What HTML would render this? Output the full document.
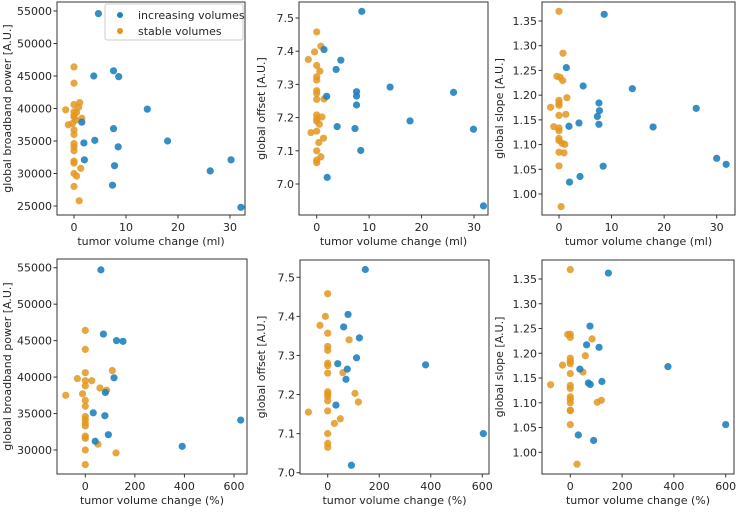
<!DOCTYPE html>
<html><head><meta charset="utf-8"><style>
html,body{margin:0;padding:0;background:#fff}
svg text{font-family:"DejaVu Sans","Liberation Sans",sans-serif;fill:#262626}
</style></head><body>
<svg id="fig" width="736" height="508" viewBox="0 0 736 508" xmlns="http://www.w3.org/2000/svg"></svg>
<script>
// ---- data (per panel) ----
const p1IncX=[4.7,3.8,7.6,8.6,14.1,1.5,7.6,18.0,4.0,1.9,8.5,2.0,7.8,7.4,30.2,26.2,32.1];
const p1IncY=[54600,45000,45800,44900,39900,37900,36900,35000,35100,34700,34100,32100,31200,28200,32100,30400,24800];
const p1StaX=[0,0,0,1.1,-1.6,0,0.5,0,0.9,0,1.5,-1.1,0,0,0,0,0,0,0,1.3,0,0.5,0,1.0,-0.3,0.4];
const p1StaY=[46400,43900,40600,40900,39800,39500,39400,38900,40200,38700,38500,37500,36700,36000,34600,34100,33500,31900,31600,30800,30000,29600,28000,25800,37700,38200];
const p2IncX=[8.6,1.4,4.6,3.7,7.6,7.6,7.6,14.0,26.1,1.9,17.8,3.9,7.3,29.9,8.4,2.0,31.8];
const p2IncY=[7.52,7.405,7.373,7.345,7.278,7.265,7.238,7.292,7.276,7.264,7.19,7.173,7.167,7.165,7.101,7.02,6.934];
const p2StaX=[0,0.8,-0.4,-1.6,0,0.6,0,0,0,0,0,1.4,0,1.0,0,0,0.5,-1.1,0,1.3,0.4,0,0.8,0,0];
const p2StaY=[7.458,7.415,7.398,7.375,7.357,7.34,7.323,7.313,7.281,7.273,7.255,7.256,7.208,7.202,7.197,7.189,7.18,7.155,7.159,7.138,7.125,7.1,7.082,7.072,7.064];
const p3IncX=[8.6,1.4,4.6,13.95,7.6,7.7,7.3,7.6,3.8,1.9,17.9,26.1,30,31.8,8.4,4.0,2.0];
const p3IncY=[1.3635,1.2556,1.2185,1.2131,1.1841,1.1686,1.157,1.141,1.1436,1.137,1.1356,1.1733,1.0722,1.06,1.0563,1.0354,1.024];
const p3StaX=[0,0.76,-0.4,0.2,0.7,0,0,0,1.5,-1.6,1.3,0,-1.0,0,0,0,0,0.6,1.1,0,0.95,0,0.4];
const p3StaY=[1.3696,1.2848,1.2381,1.236,1.2294,1.1895,1.184,1.1794,1.1949,1.1753,1.1612,1.159,1.1362,1.1335,1.128,1.1125,1.108,1.1025,1.1005,1.0845,1.0832,1.0568,0.9745];
const p4IncX=[63,73,126,152,116,81,32,79,93,40,391,627];
const p4IncY=[54700,45900,45000,44900,39900,37900,35100,34700,32100,31200,30500,34100];
const p4StaX=[0,0,0,109,-32,0,26,0,59,86,-11,-79,0,0,0,0,0,0,0,0,51,0,124,0];
const p4StaY=[46400,43800,40600,40900,39800,39500,39500,38800,38500,38200,37700,37500,36800,36000,34600,34200,33700,33300,31900,31600,30800,30000,29600,28000];
const p5IncX=[146,79,62,123,112,39,76,71,380,32,604,92];
const p5IncY=[7.52,7.405,7.373,7.345,7.294,7.279,7.265,7.239,7.276,7.173,7.1,7.019];
const p5StaX=[0,-9,-30,0,0,0,83,0,0,0,59,0,0,0,0,106,119,0,-75,49,26,0,0,0];
const p5StaY=[7.458,7.4,7.377,7.357,7.323,7.313,7.34,7.28,7.274,7.255,7.256,7.207,7.201,7.195,7.184,7.203,7.181,7.158,7.155,7.138,7.126,7.1,7.075,7.065];
const p6IncX=[147,76,63,111,377,37,70,77,122,600,31,90];
const p6IncY=[1.362,1.255,1.217,1.212,1.173,1.168,1.140,1.137,1.143,1.056,1.035,1.024];
const p6StaX=[0,84,-10,0,0,58,0,0,0,-30,0,49,-76,0,0,0,0,0,104,120,0,0,0,26];
const p6StaY=[1.369,1.229,1.238,1.2385,1.232,1.195,1.190,1.184,1.179,1.176,1.159,1.162,1.1365,1.135,1.129,1.112,1.107,1.100,1.101,1.105,1.085,1.084,1.056,0.976];
const ticksPower=[25000,30000,35000,40000,45000,50000,55000];
const ticksOffset=[7.0,7.1,7.2,7.3,7.4,7.5];
const ticksSlope=[1.00,1.05,1.10,1.15,1.20,1.25,1.30,1.35];
const ticksMl=[0,10,20,30];
const ticksPct=[0,200,400,600];

const NS="http://www.w3.org/2000/svg";
const svg=document.getElementById('fig');
function mk(tag,attrs,parent){const e=document.createElementNS(NS,tag);for(const k in attrs)e.setAttribute(k,attrs[k]);(parent||svg).appendChild(e);return e;}
function lin(v1,p1,v2,p2){return v=>p1+(v-v1)*(p2-p1)/(v2-v1);}
const BLUE="#1f82c0",ORANGE="#e4961f";

const panels=[
 {id:'power-ml',box:[57,2,245,215],sx:lin(0,74,30,230),sy:lin(25000,206,55000,11),xt:ticksMl,yt:ticksPower,yd:0,xl:'tumor volume change (ml)',yl:'global broadband power [A.U.]',ylx:11,ix:p1IncX,iy:p1IncY,sxs:p1StaX,sys:p1StaY,legend:true},
 {id:'offset-ml',box:[299,2,488,215],sx:lin(0,316.7,30,474),sy:lin(7.0,184,7.5,18),xt:ticksMl,yt:ticksOffset,yd:1,xl:'tumor volume change (ml)',yl:'global offset [A.U.]',ylx:265,ix:p2IncX,iy:p2IncY,sxs:p2StaX,sys:p2StaY},
 {id:'slope-ml',box:[542,2,735,215],sx:lin(0,559,30,716.7),sy:lin(1.00,194,1.35,21),xt:ticksMl,yt:ticksSlope,yd:2,xl:'tumor volume change (ml)',yl:'global slope [A.U.]',ylx:503,ix:p3IncX,iy:p3IncY,sxs:p3StaX,sys:p3StaY},
 {id:'power-pct',box:[57,259,247,474],sx:lin(0,85.3,600,234),sy:lin(30000,450,55000,267.7),xt:ticksPct,yt:ticksPower.slice(1),yd:0,xl:'tumor volume change (%)',yl:'global broadband power [A.U.]',ylx:11,ix:p4IncX,iy:p4IncY,sxs:p4StaX,sys:p4StaY},
 {id:'offset-pct',box:[300,260,489,474],sx:lin(0,327.7,600,482.3),sy:lin(7.0,472.7,7.5,277.3),xt:ticksPct,yt:ticksOffset,yd:1,xl:'tumor volume change (%)',yl:'global offset [A.U.]',ylx:265,ix:p5IncX,iy:p5IncY,sxs:p5StaX,sys:p5StaY},
 {id:'slope-pct',box:[542,260,734,474],sx:lin(0,570.3,600,725.7),sy:lin(1.00,452.3,1.35,279),xt:ticksPct,yt:ticksSlope,yd:2,xl:'tumor volume change (%)',yl:'global slope [A.U.]',ylx:503,ix:p6IncX,iy:p6IncY,sxs:p6StaX,sys:p6StaY}
];

panels.forEach(p=>{
 const [L,T,R,B]=p.box;
 const g=mk('g',{});
 
 
 const fr=mk('rect',{x:L,y:T,width:R-L,height:B-T,fill:'none',stroke:'#333',"stroke-width":1},g);
 
 
 p.xt.forEach(v=>{
  const x=p.sx(v);
  const tk=mk('line',{x1:x,x2:x,y1:B,y2:B+3.5,stroke:'#333'},g);
  
  
  const t=mk('text',{x:x,y:B+16,'text-anchor':'middle','font-size':11},g);
  t.textContent=String(v);
  
  
 });
 p.yt.forEach(v=>{
  const y=p.sy(v);
  if(y<T-1||y>B+1)return;
  const tk=mk('line',{x1:L-3.5,x2:L,y1:y,y2:y,stroke:'#333'},g);
  
  
  const t=mk('text',{x:L-5,y:y+4,'text-anchor':'end','font-size':11},g);
  t.textContent=v.toFixed(p.yd);
  
  
 });
 const xl=mk('text',{x:(L+R)/2,y:B+30,'text-anchor':'middle','font-size':11},g);
 xl.textContent=p.xl;
 
 
 const cy=(T+B)/2;
 const yl=mk('text',{x:p.ylx,y:cy,'text-anchor':'middle','font-size':11,transform:'rotate(-90 '+p.ylx+' '+cy+')'},g);
 yl.textContent=p.yl;
 
 
 p.sxs.forEach((v,i)=>{
  const c=mk('circle',{cx:p.sx(v),cy:p.sy(p.sys[i]),r:3.6,fill:ORANGE,'fill-opacity':0.85},g);
  
  
 });
 p.ix.forEach((v,i)=>{
  const c=mk('circle',{cx:p.sx(v),cy:p.sy(p.iy[i]),r:3.6,fill:BLUE,'fill-opacity':0.9},g);
  
  
 });
 if(p.legend){
  const lg=mk('g',{},g);
  
  
  mk('rect',{x:105,y:4,width:138,height:36,rx:2,fill:'#fff','fill-opacity':0.85,stroke:'#ccc'},lg);
  const e1=mk('circle',{cx:120,cy:15,r:3,fill:BLUE},lg);
  
  
  const t1=mk('text',{x:138,y:19,'font-size':11},lg);t1.textContent='increasing volumes';
  const e2=mk('circle',{cx:120,cy:31,r:3,fill:ORANGE},lg);
  
  
  const t2=mk('text',{x:138,y:35,'font-size':11},lg);t2.textContent='stable volumes';
 }
});
</script>
</body></html>
